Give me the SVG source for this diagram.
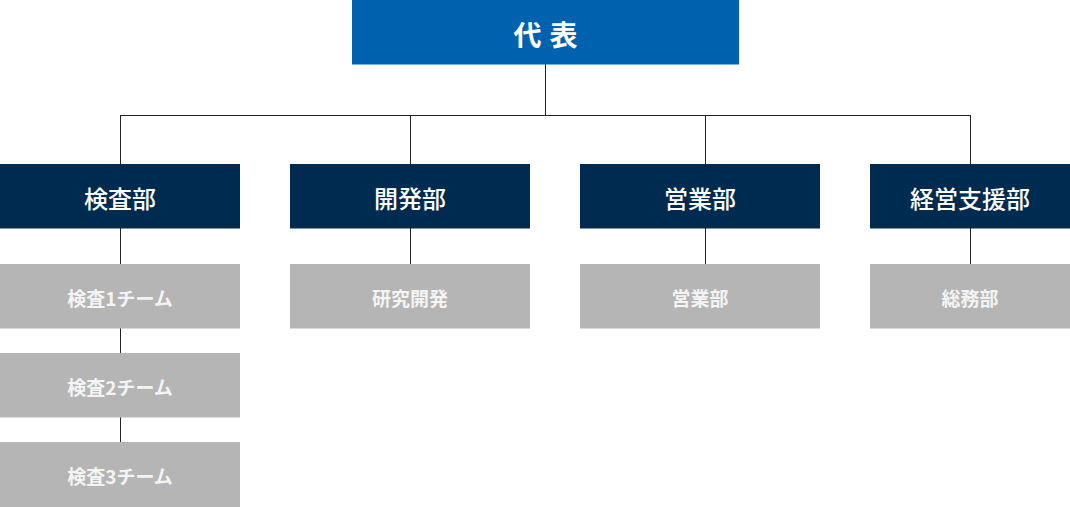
<svg xmlns="http://www.w3.org/2000/svg" width="1070" height="507" viewBox="0 0 1070 507">
<style>
.top{fill:#0062AE}
.dept{fill:#002B50}
.team{fill:#B5B5B5}
text{font-family:"Noto Sans CJK JP","Noto Sans",sans-serif;text-anchor:middle;dominant-baseline:central}
.tt{fill:#fff;font-size:28px;font-weight:bold;letter-spacing:8px}
.dt{fill:#fff;font-size:24px;font-weight:500}
.mt{fill:#F4F4F4;font-size:19px;font-weight:600}
.ln{stroke:#222;stroke-width:1;fill:none}
</style>
<g id="connectors" class="ln">
<path d="M545.5 64V115.5M120.5 115.5H970.5M120.5 115V164M410.5 115V164M705.5 115V164M970.5 115V164"/>
<path d="M120.5 228V264M120.5 328V353M120.5 417V442M410.5 228V264M705.5 228V264M970.5 228V264"/>
</g>
<g id="n-daihyo"><rect class="top" x="352" y="0" width="387" height="64.5"/><text class="tt" x="549.5" y="34">代表</text></g>
<g id="n-kensa"><rect class="dept" x="0" y="164" width="240" height="64.5"/><text class="dt" x="120" y="197">検査部</text></g>
<g id="n-kaihatsu"><rect class="dept" x="290" y="164" width="240" height="64.5"/><text class="dt" x="410" y="197">開発部</text></g>
<g id="n-eigyo"><rect class="dept" x="580" y="164" width="240" height="64.5"/><text class="dt" x="700" y="197">営業部</text></g>
<g id="n-keiei"><rect class="dept" x="870" y="164" width="200" height="64.5"/><text class="dt" x="970" y="197">経営支援部</text></g>
<g id="n-team1"><rect class="team" x="0" y="264" width="240" height="64.5"/><text class="mt" x="120" y="297">検査1チーム</text></g>
<g id="n-team2"><rect class="team" x="0" y="353" width="240" height="64.5"/><text class="mt" x="120" y="386">検査2チーム</text></g>
<g id="n-team3"><rect class="team" x="0" y="442" width="240" height="65"/><text class="mt" x="120" y="475">検査3チーム</text></g>
<g id="n-kenkyu"><rect class="team" x="290" y="264" width="240" height="64.5"/><text class="mt" x="410" y="297">研究開発</text></g>
<g id="n-eigyo2"><rect class="team" x="580" y="264" width="240" height="64.5"/><text class="mt" x="700" y="297">営業部</text></g>
<g id="n-somu"><rect class="team" x="870" y="264" width="200" height="64.5"/><text class="mt" x="970" y="297">総務部</text></g>
</svg>
